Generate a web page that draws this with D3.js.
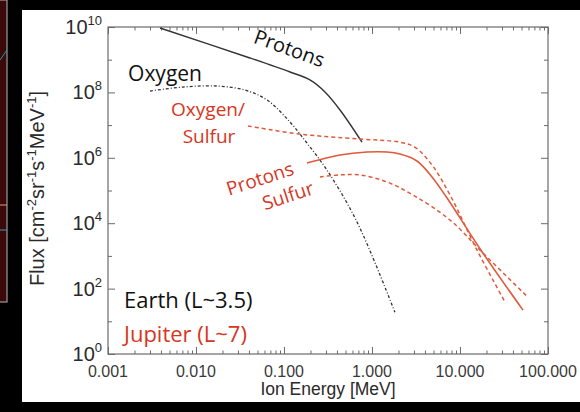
<!DOCTYPE html>
<html>
<head>
<meta charset="utf-8">
<script src="https://cdn.jsdelivr.net/npm/d3@7"></script>
<style>
  html, body { margin: 0; padding: 0; background: #000; }
  svg { display: block; }
</style>
</head>
<body>
<div id="chart"></div>
<script>
// energies in MeV, fluxes in cm-2 sr-1 s-1 MeV-1
const earthProtonE = [0.0039, 0.041, 0.117, 0.197, 0.292, 0.433, 0.77];
const earthProtonF = [9.3e9, 1.13e9, 4.2e8, 2.4e8, 1.03e8, 2.9e7, 3.0e6];

const earthOxygenE = [0.0030, 0.0071, 0.0173, 0.036, 0.064, 0.117, 0.182, 0.308, 0.676, 1.82];
const earthOxygenF = [1.1e8, 1.46e8, 1.57e8, 1.18e8, 5.9e7, 1.24e7, 2.84e6, 4.2e5, 1.09e4, 19];

const jupOxSulE = [0.039, 0.152, 0.73, 2.08, 3.08, 4.81, 7.7, 15.6, 32.4];
const jupOxSulF = [9.4e6, 5.3e6, 3.76e6, 3.0e6, 2.1e6, 6.0e5, 7.3e4, 1510, 39];

const jupProtonE = [0.182, 0.433, 0.877, 1.48, 2.08, 3.24, 4.81, 7.0, 18.2, 52];
const jupProtonF = [6.9e5, 1.22e6, 1.5e6, 1.5e6, 1.3e6, 8.0e5, 2.6e5, 6.3e4, 1230, 22];

const jupSulfurE = [0.256, 0.433, 0.73, 1.48, 3.0, 7.7, 18.2, 59];
const jupSulfurF = [2.6e5, 3.0e5, 3.0e5, 1.82e5, 7.0e4, 1.25e4, 1230, 55];

const xTickValues = [0.001, 0.01, 0.1, 1, 10, 100];
const xTickLabels = ["0.001", "0.010", "0.100", "1.000", "10.000", "100.000"];
const yTickExps = [0, 2, 4, 6, 8, 10];

const W = 580, H = 412;
const margin = { left: 108, right: 32, top: 27, bottom: 58 };
const red = "#d6361e";
const redLine = "#df5a3c";

const svg = d3.select("#chart").append("svg")
    .attr("width", W)
    .attr("height", H);

// slide background and neighbouring image edge
svg.append("rect").attr("width", W).attr("height", H).attr("fill", "#000");
svg.append("rect").attr("x", -4).attr("y", 0).attr("width", 11).attr("height", 302)
    .attr("fill", "#3a0a0a").attr("stroke", "#9a9a9a").attr("stroke-width", 1.2);
svg.append("path").attr("d", "M0,60 L7,50").attr("stroke", "#1e9aa0").attr("stroke-width", 1);
svg.append("path").attr("d", "M0,205 L7,205").attr("stroke", "#e0a070").attr("stroke-width", 1);
svg.append("path").attr("d", "M0,230 L7,230").attr("stroke", "#3aa0a8").attr("stroke-width", 1);
svg.append("rect").attr("x", 22).attr("y", 10).attr("width", W - 22).attr("height", 392)
    .attr("fill", "#fff");

const x = d3.scaleLog()
    .domain([0.001, 100])
    .range([margin.left, W - margin.right]);

const y = d3.scaleLog()
    .domain([1, 1e10])
    .range([H - margin.bottom, margin.top]);

const axisColor = "#6b6b6b";

// minor ticks on x
const xMinor = [];
for (let d = 0.001; d < 100; d *= 10) {
    for (let k = 2; k <= 9; k++) xMinor.push(d * k);
}
const yMinor = [1e1, 1e3, 1e5, 1e7, 1e9];

function styleAxis(g) {
    g.select(".domain").remove();
    g.selectAll("line").attr("stroke", axisColor);
}

// bottom / top axes
[[H - margin.bottom, d3.axisTop], [margin.top, d3.axisBottom]].forEach(([pos, ax]) => {
    svg.append("g")
        .attr("transform", `translate(0,${pos})`)
        .call(ax(x).tickValues(xTickValues).tickSize(7).tickFormat(""))
        .call(styleAxis);
    svg.append("g")
        .attr("transform", `translate(0,${pos})`)
        .call(ax(x).tickValues(xMinor).tickSize(3.5).tickFormat(""))
        .call(styleAxis);
});

// left / right axes
const yMajor = yTickExps.map(e => Math.pow(10, e));
[[margin.left, d3.axisRight], [W - margin.right, d3.axisLeft]].forEach(([pos, ax]) => {
    svg.append("g")
        .attr("transform", `translate(${pos},0)`)
        .call(ax(y).tickValues(yMajor).tickSize(7).tickFormat(""))
        .call(styleAxis);
    svg.append("g")
        .attr("transform", `translate(${pos},0)`)
        .call(ax(y).tickValues(yMinor).tickSize(4).tickFormat(""))
        .call(styleAxis);
});

svg.append("rect")
    .attr("x", margin.left).attr("y", margin.top)
    .attr("width", W - margin.right - margin.left)
    .attr("height", H - margin.bottom - margin.top)
    .attr("fill", "none").attr("stroke", axisColor).attr("stroke-width", 1.2);

// tick labels
const axisFont = "Liberation Sans, Arial, sans-serif";
svg.append("g").selectAll("text")
    .data(xTickValues)
    .join("text")
    .attr("x", d => x(d))
    .attr("y", H - margin.bottom + 23)
    .attr("text-anchor", "middle")
    .attr("font-family", axisFont)
    .attr("font-size", 16)
    .attr("fill", "#3a3a3a")
    .text((d, i) => xTickLabels[i]);

const yl = svg.append("g").selectAll("text")
    .data(yTickExps)
    .join("text")
    .attr("x", margin.left - 6)
    .attr("y", d => y(Math.pow(10, d)) + 7)
    .attr("text-anchor", "end")
    .attr("font-family", axisFont)
    .attr("font-size", 20)
    .attr("fill", "#2a2a2a");
yl.append("tspan").text("10");
yl.append("tspan").attr("dy", -9).attr("font-size", 13).text(d => d);

// axis titles
svg.append("text")
    .attr("x", (margin.left + W - margin.right) / 2)
    .attr("y", H - margin.bottom + 41)
    .attr("text-anchor", "middle")
    .attr("font-family", axisFont)
    .attr("font-size", 17.5)
    .attr("fill", "#2a2a2a")
    .text("Ion Energy [MeV]");

const yt = svg.append("text")
    .attr("transform", `translate(44,${(margin.top + H - margin.bottom) / 2 - 2}) rotate(-90)`)
    .attr("text-anchor", "middle")
    .attr("font-family", axisFont)
    .attr("font-size", 20)
    .attr("fill", "#2a2a2a");
[["Flux [cm", ""], ["-2", "s"], ["sr", ""], ["-1", "s"], ["s", ""], ["-1", "s"], ["MeV", ""], ["-1", "s"], ["]", ""]]
    .forEach(([t, k], i, arr) => {
        const prevSup = i > 0 && arr[i - 1][1] === "s";
        yt.append("tspan")
            .attr("dy", k === "s" ? -8 : (prevSup ? 8 : 0))
            .attr("font-size", k === "s" ? 13 : 20)
            .text(t);
    });

// curves
const line = d3.line()
    .x(d => x(d[0]))
    .y(d => y(d[1]))
    .curve(d3.curveCatmullRom.alpha(0.5));

const zip = (a, b) => a.map((v, i) => [v, b[i]]);

const plot = svg.append("g");

plot.append("path").datum(zip(earthProtonE, earthProtonF))
    .attr("d", line).attr("fill", "none")
    .attr("stroke", "#333").attr("stroke-width", 1.4);

plot.append("path").datum(zip(earthOxygenE, earthOxygenF))
    .attr("d", line).attr("fill", "none")
    .attr("stroke", "#333").attr("stroke-width", 1.3)
    .attr("stroke-dasharray", "3,2,1,2");

plot.append("path").datum(zip(jupOxSulE, jupOxSulF))
    .attr("d", line).attr("fill", "none")
    .attr("stroke", redLine).attr("stroke-width", 1.5)
    .attr("stroke-dasharray", "4,3");

plot.append("path").datum(zip(jupProtonE, jupProtonF))
    .attr("d", line).attr("fill", "none")
    .attr("stroke", redLine).attr("stroke-width", 1.6);

plot.append("path").datum(zip(jupSulfurE, jupSulfurF))
    .attr("d", line).attr("fill", "none")
    .attr("stroke", redLine).attr("stroke-width", 1.5)
    .attr("stroke-dasharray", "4,3");

// annotations
const labelFont = "'Open Sans', Lato, sans-serif";
function note(txt, px, py, color, rot, size, anchor) {
    svg.append("text")
        .attr("transform", `translate(${px},${py}) rotate(${rot})`)
        .attr("text-anchor", anchor || "middle")
        .attr("font-family", labelFont)
        .attr("font-size", size)
        .attr("fill", color)
        .text(txt);
}
note("Protons", 287, 55, "#111", 20, 20);
note("Oxygen", 165, 81, "#111", 0, 21);
note("Oxygen/", 208, 116, red, 0, 19);
note("Sulfur", 209, 143, red, 0, 19);
note("Protons", 262, 185, red, -18, 19);
note("Sulfur", 290, 202, red, -18, 19);
note("Earth (L~3.5)", 124, 308, "#111", 0, 22, "start");
note("Jupiter (L~7)", 124, 342, red, 0, 22, "start");
</script>
</body>
</html>
